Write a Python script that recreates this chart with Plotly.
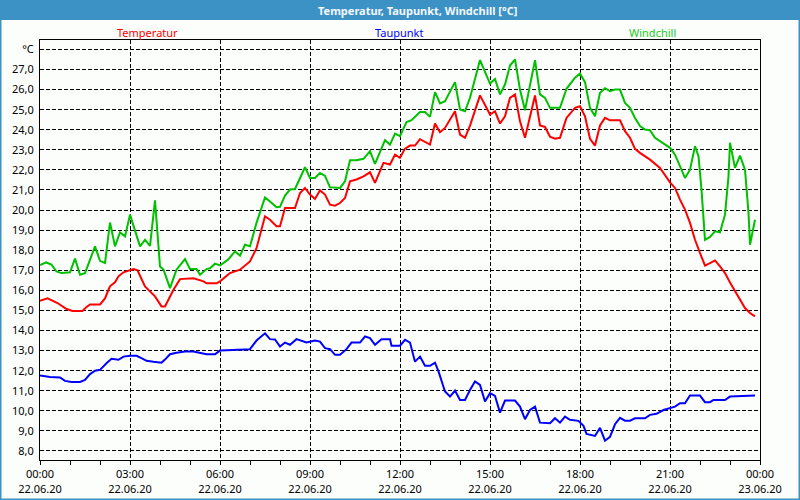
import pandas as pd
import plotly.graph_objects as go

# minutes after 22.06.20 00:00
temp_min = [0, 15, 35, 45, 53, 65, 85, 92, 100, 120, 130, 137, 140, 150, 157, 167, 187, 195,
            210, 230, 243, 250, 267, 280, 307, 327, 333, 353, 360, 380, 400, 420, 433, 450,
            460, 473, 480, 490, 510, 520, 530, 540, 550, 560, 570, 580, 590, 600, 610, 620,
            633, 647, 660, 670, 687, 700, 710, 720, 730, 740, 750, 760, 780, 790, 800, 810,
            830, 840, 850, 860, 880, 900, 910, 920, 930, 940, 950, 960, 970, 990, 1000, 1010,
            1020, 1030, 1040, 1053, 1070, 1080, 1090, 1100, 1110, 1120, 1130, 1140, 1160,
            1170, 1180, 1190, 1200, 1220, 1240, 1260, 1270, 1280, 1290, 1300, 1310, 1320,
            1330, 1340, 1350, 1360, 1370, 1380, 1390, 1400, 1410, 1420, 1430]
temperatur = [15.48, 15.6, 15.37, 15.2, 15.07, 14.97, 14.97, 15.15, 15.3, 15.3, 15.6, 16.03,
              16.2, 16.4, 16.7, 16.9, 17.06, 17.0, 16.2, 15.7, 15.2, 15.2, 16.03, 16.56, 16.6,
              16.45, 16.35, 16.35, 16.45, 16.86, 17.03, 17.44, 18.1, 19.69, 19.52, 19.19,
              19.19, 20.1, 20.1, 20.85, 21.1, 20.77, 20.55, 20.98, 20.77, 20.27, 20.22, 20.35,
              20.6, 21.43, 21.52, 21.68, 21.88, 21.35, 22.35, 22.27, 22.76, 22.6, 23.06, 23.21,
              23.21, 23.53, 23.26, 24.31, 23.88, 24.09, 24.92, 23.76, 23.6, 24.21, 25.71,
              24.76, 24.92, 24.31, 24.67, 25.59, 25.76, 24.42, 23.6, 25.71, 24.21, 24.14,
              23.65, 23.55, 23.6, 24.59, 25.09, 25.17, 24.67, 23.55, 23.21, 24.21, 24.59,
              24.47, 24.47, 23.93, 23.6, 23.05, 22.85, 22.51, 22.1, 21.38, 21.1, 20.52, 20.02,
              19.36, 18.52, 17.86, 17.23, 17.36, 17.49, 17.19, 16.86, 16.39, 15.95, 15.53,
              15.12, 14.87, 14.7]

dew_min = [0, 20, 40, 50, 63, 80, 90, 100, 110, 120, 133, 143, 157, 167, 180, 193, 203, 213,
           227, 243, 250, 260, 273, 290, 307, 317, 333, 350, 360, 373, 400, 420, 433, 450,
           460, 470, 480, 490, 500, 513, 533, 550, 560, 570, 580, 590, 600, 613, 623, 640,
           650, 660, 670, 683, 700, 703, 720, 730, 740, 750, 760, 770, 780, 790, 797, 810,
           820, 830, 840, 850, 860, 870, 880, 890, 900, 910, 920, 930, 950, 960, 970, 980,
           990, 1000, 1020, 1030, 1040, 1050, 1060, 1077, 1087, 1093, 1110, 1120, 1130,
           1140, 1150, 1160, 1170, 1180, 1190, 1210, 1220, 1233, 1247, 1257, 1270, 1280,
           1290, 1300, 1320, 1330, 1340, 1347, 1370, 1380, 1400, 1430]
taupunkt = [11.76, 11.68, 11.66, 11.49, 11.44, 11.44, 11.54, 11.83, 12.0, 12.04, 12.37, 12.59,
            12.54, 12.7, 12.74, 12.74, 12.62, 12.49, 12.44, 12.4, 12.55, 12.82, 12.89, 12.95,
            12.95, 12.89, 12.82, 12.82, 13.0, 13.02, 13.04, 13.07, 13.5, 13.86, 13.57, 13.55,
            13.2, 13.4, 13.29, 13.57, 13.4, 13.5, 13.45, 13.12, 13.07, 12.79, 12.79, 13.07,
            13.4, 13.4, 13.7, 13.62, 13.29, 13.57, 13.57, 13.24, 13.24, 13.54, 13.4, 12.45,
            12.7, 12.24, 12.24, 12.4, 11.96, 10.96, 10.71, 11.01, 10.54, 10.54, 11.04, 11.46,
            11.29, 10.46, 10.88, 10.74, 9.91, 10.51, 10.51, 10.21, 9.58, 10.04, 10.21, 9.41,
            9.38, 9.63, 9.41, 9.71, 9.55, 9.5, 9.25, 8.85, 8.75, 9.15, 8.51, 8.7, 9.33, 9.65,
            9.51, 9.51, 9.63, 9.63, 9.8, 9.85, 10.04, 10.11, 10.21, 10.38, 10.38, 10.76,
            10.76, 10.43, 10.43, 10.54, 10.54, 10.71, 10.74, 10.76]

wind_min = [0, 12, 23, 33, 43, 60, 70, 80, 90, 110, 120, 130, 140, 150, 160, 170, 180, 200,
            210, 220, 230, 240, 247, 260, 273, 290, 300, 313, 320, 333, 340, 350, 360, 376,
            390, 400, 410, 420, 433, 450, 460, 473, 480, 490, 500, 510, 530, 540, 550, 560,
            570, 580, 600, 610, 620, 633, 647, 660, 670, 690, 700, 710, 720, 733, 743, 760,
            770, 780, 790, 800, 810, 830, 840, 850, 860, 880, 900, 910, 920, 930, 940, 950,
            960, 970, 990, 1000, 1010, 1020, 1040, 1053, 1070, 1080, 1090, 1100, 1110, 1120,
            1130, 1140, 1150, 1160, 1170, 1180, 1190, 1200, 1210, 1220, 1230, 1240, 1250,
            1260, 1270, 1280, 1290, 1300, 1310, 1317, 1323, 1330, 1340, 1350, 1360, 1370,
            1377, 1380, 1390, 1400, 1410, 1417, 1420, 1430]
windchill = [17.26, 17.39, 17.28, 16.94, 16.86, 16.9, 17.58, 16.78, 16.86, 18.19, 17.47,
             17.36, 19.38, 18.19, 18.89, 18.69, 19.77, 18.19, 18.52, 18.22, 20.48, 17.19,
             17.03, 16.11, 17.03, 17.56, 17.06, 17.06, 16.78, 17.06, 17.1, 17.33, 17.24,
             17.53, 17.94, 17.73, 18.27, 18.2, 19.36, 20.63, 20.43, 20.14, 20.16, 20.72,
             21.02, 21.05, 22.13, 21.6, 21.6, 21.85, 21.7, 21.13, 21.1, 21.43, 22.48, 22.48,
             22.55, 22.93, 22.3, 23.48, 23.26, 23.81, 23.68, 24.38, 24.48, 24.88, 24.88,
             24.64, 25.87, 25.31, 25.42, 26.37, 25.01, 24.92, 25.59, 27.47, 26.3, 26.53,
             25.76, 26.25, 27.2, 27.5, 26.0, 24.97, 27.47, 25.76, 25.59, 25.09, 25.09, 26.04,
             26.59, 26.8, 26.37, 25.09, 24.67, 25.84, 26.07, 25.92, 26.0, 26.0, 25.34, 25.09,
             24.59, 24.18, 24.01, 23.98, 23.6, 23.43, 23.26, 23.1, 22.76, 22.18, 21.6, 22.01,
             23.18, 22.68, 21.02, 18.52, 18.66, 18.94, 18.89, 19.77, 21.68, 23.35, 22.1,
             22.71, 22.01, 19.86, 18.27, 19.52]

y_ticks = list(range(8, 29))
y_text = [f"{v},0" for v in range(8, 28)] + ["°C"]
x_ticks = ["2020-06-22 00:00", "2020-06-22 03:00", "2020-06-22 06:00", "2020-06-22 09:00",
           "2020-06-22 12:00", "2020-06-22 15:00", "2020-06-22 18:00", "2020-06-22 21:00",
           "2020-06-23 00:00"]
x_text = ["00:00<br>22.06.20", "03:00<br>22.06.20", "06:00<br>22.06.20", "09:00<br>22.06.20",
          "12:00<br>22.06.20", "15:00<br>22.06.20", "18:00<br>22.06.20", "21:00<br>22.06.20",
          "00:00<br>23.06.20"]

start = pd.Timestamp("2020-06-22 00:00")


def times(mins):
    return start + pd.to_timedelta(mins, unit="min")


BG = "#FCFEFC"
BAR = "#3C92C4"
FONT = "Noto Sans"

fig = go.Figure()
fig.add_trace(go.Scatter(x=times(temp_min), y=temperatur, mode="lines", name="Temperatur",
                         line=dict(color="#FF0000", width=2)))
fig.add_trace(go.Scatter(x=times(dew_min), y=taupunkt, mode="lines", name="Taupunkt",
                         line=dict(color="#0000FF", width=2)))
fig.add_trace(go.Scatter(x=times(wind_min), y=windchill, mode="lines", name="Windchill",
                         line=dict(color="#00C000", width=2)))

fig.update_layout(
    width=800, height=500,
    margin=dict(l=40, r=40, t=40, b=40),
    paper_bgcolor=BG, plot_bgcolor=BG,
    showlegend=False,
    font=dict(family=FONT, size=11, color="#000000"),
)
fig.update_xaxes(
    range=[start, start + pd.Timedelta(hours=24)],
    tickmode="array", tickvals=x_ticks, ticktext=x_text,
    ticks="outside", ticklen=4, tickcolor="black",
    showline=True, linecolor="black", linewidth=1, mirror=True,
    showgrid=True, gridcolor="black", gridwidth=1, griddash="4px,2px",
    minor=dict(dtick=3600000, ticks="outside", ticklen=4, tickcolor="black", showgrid=False),
    zeroline=False, automargin=False,
)
fig.update_yaxes(
    range=[7.55, 28.47],
    tickmode="array", tickvals=y_ticks, ticktext=y_text,
    ticks="", ticklabelstandoff=3,
    showline=True, linecolor="black", linewidth=1, mirror=True,
    showgrid=True, gridcolor="black", gridwidth=1, griddash="4px,2px",
    zeroline=False, automargin=False,
)


# title bar and outer frame, in pixel terms converted to paper coords
def px_x(p):
    return (p - 40) / 720


def px_y(p):
    return (460 - p) / 420


fig.add_shape(type="rect", xref="paper", yref="paper",
              x0=px_x(0), x1=px_x(800), y0=px_y(20), y1=px_y(0),
              fillcolor=BAR, line=dict(width=0))
fig.add_shape(type="rect", xref="paper", yref="paper",
              x0=px_x(0), x1=px_x(800), y0=px_y(500), y1=px_y(0),
              line=dict(color=BAR, width=3))

fig.add_annotation(text="<b>Temperatur, Taupunkt, Windchill [°C]</b>", xref="paper", yref="paper",
                   x=px_x(417), y=px_y(10), showarrow=False, xanchor="center", yanchor="middle",
                   font=dict(family=FONT, size=11, color="#F4F8FF"))
for label, xc, col in [("Temperatur", 147, "#FF0000"), ("Taupunkt", 399, "#0000FF"),
                       ("Windchill", 652, "#22CC22")]:
    fig.add_annotation(text=label, xref="paper", yref="paper", x=px_x(xc), y=px_y(32),
                       showarrow=False, xanchor="center", yanchor="middle",
                       font=dict(family=FONT, size=11, color=col))

# drop the browser's default body margin so the chart sits at the window corner
fig.write_html("out.html", config={"displayModeBar": False},
               post_script="document.body.style.margin = '0';")
